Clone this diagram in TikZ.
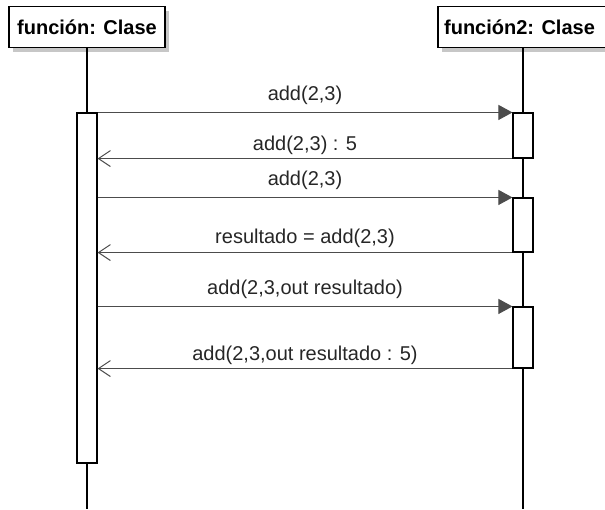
\documentclass[tikz,border=0pt]{standalone}
\usepackage{fontspec}
\setmainfont{Liberation Sans}
\usetikzlibrary{arrows.meta,shadows}
\begin{document}
\begin{tikzpicture}[
  x=1pt,y=-1pt,
  head/.style={rectangle,draw,line width=1.1pt,fill=white,
               minimum width=156pt,minimum height=41pt,inner sep=0pt,
               font=\fontsize{20}{24}\selectfont\bfseries,
               drop shadow={shadow xshift=4pt,shadow yshift=-4pt,
                            fill=black!22,opacity=1}},
  bar/.style={rectangle,draw,line width=1.1pt,fill=white,
              minimum width=20pt,inner sep=0pt},
  life/.style={line width=1.1pt},
  call/.style={line width=1pt,black!70,
               -{Triangle[length=14pt,width=15pt]}},
  ret/.style={line width=1pt,black!70,
              -{Straight Barb[length=12pt,width=16pt,line width=1pt]}},
  lbl/.style={font=\fontsize{20}{24}\selectfont,black!85,inner sep=0pt}
]
  \useasboundingbox (0,0) rectangle (605,509);

  \node[head] (f1) at (87,27) {función: Clase};
  \node[head,minimum width=170pt,anchor=center] (f2) at (523,27)
    {\hspace*{-7pt}función2: Clase};
  \coordinate (e1) at (87,509);
  \coordinate (e2) at (523,509);

  \draw[life] (f1) -- (e1);
  \draw[life] (f2) -- (e2);

  \node[bar,minimum height=350pt] (a1) at (87,288) {};
  \node[bar,minimum height=45pt]  (b1) at (523,135.5) {};
  \node[bar,minimum height=54pt]  (b2) at (523,225) {};
  \node[bar,minimum height=61pt]  (b3) at (523,337.5) {};

  \draw[call] (a1.east |- b1.north) -- (b1.north west)
    node[lbl,midway,above=7pt] {add(2,3)};
  \draw[ret] (b1.south west) -- (a1.east |- b1.south)
    node[lbl,midway,above=3pt] {add(2,3) : 5};
  \draw[call] (a1.east |- b2.north) -- (b2.north west)
    node[lbl,midway,above=7pt] {add(2,3)};
  \draw[ret] (b2.south west) -- (a1.east |- b2.south)
    node[lbl,midway,above=4pt] {resultado = add(2,3)};
  \draw[call] (a1.east |- b3.north) -- (b3.north west)
    node[lbl,midway,above=7pt] {add(2,3,out resultado)};
  \draw[ret] (b3.south west) -- (a1.east |- b3.south)
    node[lbl,midway,above=3pt] {add(2,3,out resultado : 5)};
\end{tikzpicture}
\end{document}
